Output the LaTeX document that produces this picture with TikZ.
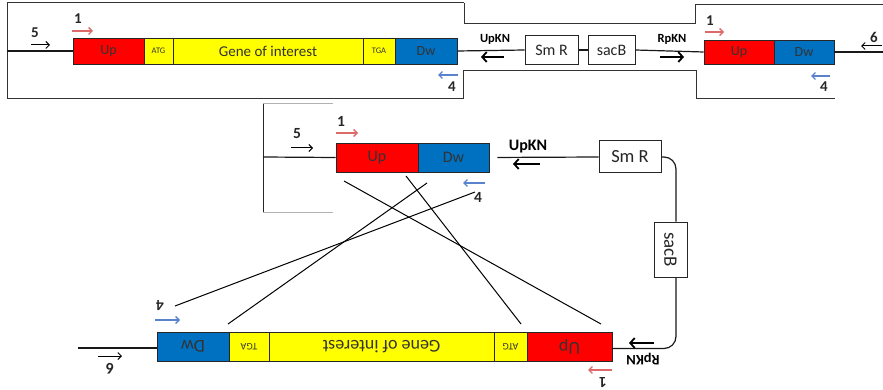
\documentclass[tikz,border=0pt]{standalone}
\usepackage{fontspec}
\setmainfont{Carlito}
\usetikzlibrary{arrows.meta}
\newcommand{\fsz}[1]{\fontsize{#1}{#1}\selectfont}
\newcommand{\markarrow}[4]{\coordinate (#1s) at (#2); \coordinate (#1e) at (#3); \draw[#4] (#1s) -- (#1e);}
\definecolor{upred}{RGB}{255,0,0}
\definecolor{dwblue}{RGB}{0,112,192}
\definecolor{gy}{RGB}{255,255,0}
\definecolor{pinkar}{RGB}{222,105,105}
\definecolor{bluear}{RGB}{90,130,205}
\begin{document}
\begin{tikzpicture}[x=1pt,y=-1pt,
  seg/.style={draw=black!85, line width=0.8pt, inner sep=0pt, minimum height=#1, text=black!80},
  wbox/.style={draw=black!85, line width=1pt, inner sep=0pt, fill=white, text=black!85},
  num/.style={inner sep=0pt, font=\fsz{15}\bfseries, text=black!85},
  kn/.style={inner sep=0pt, font=\fsz{#1}\bfseries, text=black},
  conn/.style={line width=1.2pt, black!90},
  outline/.style={line width=1pt, black!80},
  thinarr/.style={line width=1pt, black, -{Straight Barb[length=3.5pt,width=7pt]}},
  pinkarr/.style={line width=1.3pt, pinkar, -{Straight Barb[length=3.5pt,width=7pt]}},
  bluearr/.style={line width=1.3pt, bluear, -{Straight Barb[length=3.5pt,width=7pt]}},
  bigarr/.style={line width=1.8pt, black, -{Straight Barb[length=4.5pt,width=10pt]}},
  cross/.style={line width=1pt, black}
]
\useasboundingbox (0,0) rectangle (883,390);

% ---------------- top row ----------------
\draw[outline] (464,3) -- (7,3) -- (7,99) -- (463,99);
\draw[outline] (464,3) -- (464,24) -- (695,24) -- (695,5) -- (883,5);
\draw[outline] (463,99) -- (463,71) -- (696,71) -- (696,99) -- (835,99);

\node[seg=26pt, fill=upred, minimum width=71pt, font=\fsz{14}] (up1) at (108.5,51) {Up};
\node[seg=26pt, fill=gy, minimum width=29pt, font=\fsz{8.5}] (atg1) at (158.5,51) {ATG};
\node[seg=26pt, fill=gy, minimum width=190pt, font=\fsz{15}] (gene1) at (268,51) {Gene of interest};
\node[seg=26pt, fill=gy, minimum width=32pt, font=\fsz{8.5}] (tga1) at (379,51) {TGA};
\node[seg=26pt, fill=dwblue, minimum width=62pt, font=\fsz{14}] (dw1) at (426,51) {Dw};
\node[wbox, minimum width=53pt, minimum height=29pt, font=\fsz{16}] (smr1) at (551.5,50) {Sm R};
\node[wbox, minimum width=47pt, minimum height=29pt, font=\fsz{16}] (sacb1) at (611.5,50) {sacB};
\node[seg=24pt, fill=upred, minimum width=70pt, font=\fsz{14}] (up2) at (739,52) {Up};
\node[seg=24pt, fill=dwblue, minimum width=60pt, font=\fsz{14}] (dw2) at (804,52) {Dw};
\coordinate (L0) at (7,51);
\coordinate (R0) at (883,52);
\draw[conn] (L0) -- (up1.west);
\draw[conn] (dw1.east) -- (smr1.west);
\draw[conn] (smr1.east) -- (sacb1.west);
\draw[conn] (sacb1.east) -- (up2.west);
\draw[conn] (dw2.east) -- (R0);

\node[num] (n5a) at (35,33) {5};
\markarrow{a5a}{31,45}{50,45}{thinarr}
\node[num] (n1a) at (78,19) {1};
\markarrow{p1a}{72,31}{93,31}{pinkarr}
\node[num] (n4a) at (452,87) {4};
\markarrow{b4a}{458,75}{438,75}{bluearr}
\node[kn=12.5] (upkn1) at (495,39) {UpKN};
\markarrow{k1}{504,57}{481,57}{bigarr}
\node[kn=12.5] (rpkn1) at (672,39) {RpKN};
\markarrow{k2}{660,57}{684,57}{bigarr}
\node[num] (n1b) at (710,21) {1};
\markarrow{p1b}{705,32}{724,32}{pinkarr}
\node[num] (n4b) at (824,87) {4};
\markarrow{b4b}{830,76}{811,76}{bluearr}
\node[num] (n6a) at (874,37) {6};
\markarrow{a6a}{882,46}{861,46}{thinarr}

% ---------------- middle ----------------
\draw[line width=0.8pt, black!85] (263,103) -- (263,212);
\draw[line width=0.6pt, black!30] (263,103) -- (333,103);
\draw[line width=0.6pt, black!30] (263,212) -- (333,212);

\node[seg=29pt, fill=upred, minimum width=82pt, font=\fsz{16}] (up3) at (377,157.5) {Up};
\node[seg=29pt, fill=dwblue, minimum width=71pt, font=\fsz{16}] (dw3) at (453.5,157.5) {Dw};
\node[wbox, minimum width=62pt, minimum height=32pt, font=\fsz{18.5}] (smr2) at (630,157) {Sm R};
\node[wbox, minimum width=33pt, minimum height=55pt, font=\fsz{19}] (sacb2) at (670.5,249.5) {\rotatebox{-90}{sacB}};
\coordinate (L3) at (263,157);
\draw[conn] (L3) -- (up3.west);
\draw[conn, shorten <=8pt] (dw3.east) -- (smr2.west);
\draw[conn, rounded corners=12pt] (smr2.east) -| ([xshift=5.5pt]sacb2.north);

\node[num, font=\fsz{15.5}\bfseries] (n5c) at (297,134) {5};
\markarrow{a5c}{291,148}{313,148}{thinarr}
\node[num, font=\fsz{15.5}\bfseries] (n1c) at (341,121) {1};
\markarrow{p1c}{336,133}{358,133}{pinkarr}
\node[num, font=\fsz{15.5}\bfseries] (n4c) at (478,197) {4};
\markarrow{b4c}{485,183}{463,183}{bluearr}
\node[kn=16] (upkn2) at (528,147) {UpKN};
\markarrow{k3}{540,164}{513,164}{bigarr}

% ---------------- bottom row (upside down) ----------------
\node[seg=29pt, fill=dwblue, minimum width=72pt, font=\fsz{18}, rotate=180] (dw4) at (193,346.5) {Dw};
\node[seg=29pt, fill=gy, minimum width=40pt, font=\fsz{10}, rotate=180] (tga4) at (249,346.5) {TGA};
\node[seg=29pt, fill=gy, minimum width=225pt, font=\fsz{18}, rotate=180] (gene4) at (381.5,346.5) {Gene of interest};
\node[seg=29pt, fill=gy, minimum width=33pt, font=\fsz{10}, rotate=180] (atg4) at (510.5,346.5) {ATG};
\node[seg=29pt, fill=upred, minimum width=85pt, font=\fsz{18}, rotate=180] (up4) at (569.5,346.5) {Up};
\coordinate (L4) at (78,348);
\draw[conn] (L4) -- ([yshift=-1.5pt]dw4.east);
\draw[conn, rounded corners=12pt] ([xshift=5.5pt]sacb2.south) |- ([yshift=-2pt]up4.west);

\node[num, font=\fsz{15.5}\bfseries, rotate=180] (n6d) at (110,369) {6};
\markarrow{a6d}{98,356}{122,356}{thinarr}
\node[num, font=\fsz{15.5}\bfseries, rotate=180] (n4d) at (160,306) {4};
\markarrow{b4d}{155,320}{180,320}{bluearr}
\node[num, font=\fsz{15.5}\bfseries, rotate=180] (n1d) at (603,383) {1};
\markarrow{p1d}{612,370}{588,370}{pinkarr}
\node[kn=14.5, rotate=180] (rpkn2) at (643,359) {RpKN};
\markarrow{k4}{654,343}{629,343}{bigarr}

% ---------------- crossing lines ----------------
\coordinate (cA1) at (344,181); \coordinate (cA2) at (601,324);
\coordinate (cB1) at (406,176); \coordinate (cB2) at (521,324);
\coordinate (cC1) at (427,183); \coordinate (cC2) at (228,324);
\coordinate (cD1) at (475,192); \coordinate (cD2) at (175,306);
\draw[cross] (cA1) -- (cA2);
\draw[cross] (cB1) -- (cB2);
\draw[cross] (cC1) -- (cC2);
\draw[cross] (cD1) -- (cD2);
\end{tikzpicture}
\end{document}
